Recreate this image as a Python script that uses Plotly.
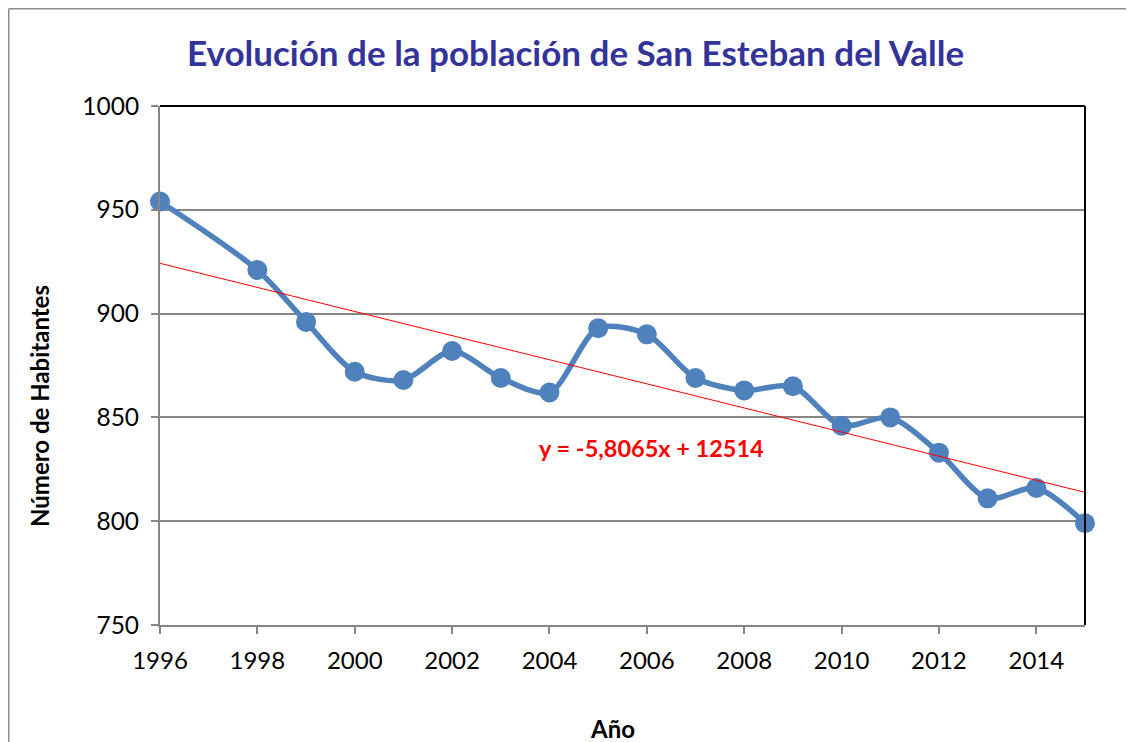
import plotly.graph_objects as go

years = [1996, 1998, 1999, 2000, 2001, 2002, 2003, 2004, 2005, 2006,
         2007, 2008, 2009, 2010, 2011, 2012, 2013, 2014, 2015]
habitantes = [954, 921, 896, 872, 868, 882, 869, 862, 893, 890,
              869, 863, 865, 846, 850, 833, 811, 816, 799]

trend_slope = -5.8065
trend_intercept = 12514
trend_x = [1996, 2015]
trend_y = [trend_slope * x + trend_intercept for x in trend_x]

title_text = "Evolución de la población de San Esteban del Valle"
x_title = "Año"
y_title = "Número de Habitantes"
eq_text = "y = -5,8065x + 12514"

FONT = "Lato"
OFF = 8  # page body margin
W, H = 1134 - OFF, 742 - OFF
# plot area in page pixels
L, R, T, B = 160, 1085, 106, 625

fig = go.Figure()
fig.add_trace(go.Scatter(
    x=years, y=habitantes, mode="lines+markers",
    line=dict(color="#4F81BD", width=5.5, shape="spline", smoothing=0.8),
    marker=dict(color="#4F81BD", size=20),
    showlegend=False, cliponaxis=False,
))
fig.add_trace(go.Scatter(
    x=trend_x, y=trend_y, mode="lines",
    line=dict(color="#FF0000", width=1),
    showlegend=False,
))

def px_x(p):
    return (p - L) / (R - L)

def px_y(p):
    return (B - p) / (B - T)

shapes = [
    # outer chart frame (left and top)
    dict(type="line", xref="paper", yref="paper", x0=px_x(8.7), x1=px_x(8.7), y0=px_y(8.7), y1=px_y(760),
         line=dict(color="#8C8C8C", width=1.5)),
    dict(type="line", xref="paper", yref="paper", x0=px_x(8.7), x1=px_x(1140), y0=px_y(8.7), y1=px_y(8.7),
         line=dict(color="#8C8C8C", width=1.5)),
    # plot area top & right border (black)
    dict(type="line", xref="paper", yref="paper", x0=0, x1=1, y0=1, y1=1,
         line=dict(color="#000000", width=2)),
    dict(type="line", xref="paper", yref="paper", x0=1, x1=1, y0=0, y1=1,
         line=dict(color="#000000", width=2)),
]

annotations = [
    dict(text=f"<b>{title_text}</b>", xref="paper", yref="paper",
         x=px_x(575), y=px_y(52), showarrow=False, xanchor="center", yanchor="middle",
         font=dict(family=FONT, size=35, color="#333399")),
    dict(text=f"<b>{x_title}</b>", xref="paper", yref="paper",
         x=px_x(612), y=px_y(728), showarrow=False, xanchor="center", yanchor="middle",
         font=dict(family=FONT, size=24, color="#000000")),
    dict(text=f"<b>{y_title}</b>", xref="paper", yref="paper",
         x=px_x(40), y=px_y(406), showarrow=False, xanchor="center", yanchor="middle",
         textangle=-90, font=dict(family=FONT, size=24, color="#000000")),
    dict(text=f"<b>{eq_text}</b>", xref="paper", yref="paper",
         x=px_x(651), y=px_y(448), showarrow=False, xanchor="center", yanchor="middle",
         font=dict(family=FONT, size=23.5, color="#FF0000")),
]

fig.update_layout(
    width=W, height=H,
    margin=dict(l=L - OFF, r=W - (R - OFF), t=T - OFF, b=H - (B - OFF), pad=0),
    paper_bgcolor="white", plot_bgcolor="white",
    font=dict(family=FONT, size=24, color="#000000"),
    shapes=shapes, annotations=annotations,
    xaxis=dict(range=[1996, 2015], tickmode="linear", tick0=1996, dtick=2,
               showgrid=False, zeroline=False,
               showline=True, linecolor="#868686", linewidth=2,
               ticks="outside", ticklen=7, tickwidth=2, tickcolor="#868686",
               ticklabelstandoff=6,
               tickfont=dict(family=FONT, size=24, color="#000000")),
    yaxis=dict(range=[750, 1000], tickmode="linear", tick0=750, dtick=50,
               showgrid=True, gridcolor="#868686", gridwidth=2, zeroline=False,
               showline=True, linecolor="#868686", linewidth=2,
               ticks="outside", ticklen=7, tickwidth=2, tickcolor="#868686",
               ticklabelstandoff=7,
               tickfont=dict(family=FONT, size=24.5, color="#000000")),
)

fig.write_html("out.html")
